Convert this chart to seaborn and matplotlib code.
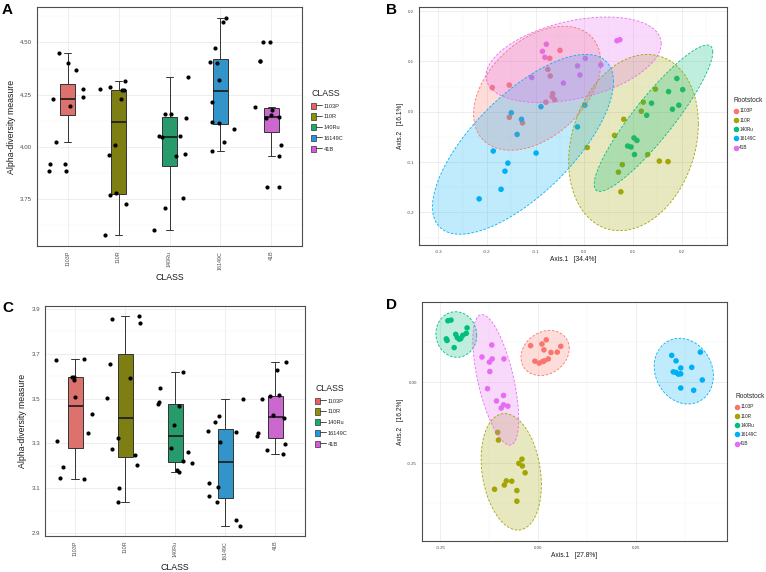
import numpy as np
import pandas as pd
import matplotlib
matplotlib.use("Agg")
import matplotlib.pyplot as plt
import seaborn as sns
from matplotlib.patches import Patch
from matplotlib.lines import Line2D
from matplotlib.legend_handler import HandlerTuple
from matplotlib.ticker import FixedLocator, FormatStrFormatter

sns.set_theme(style="white")
plt.rcParams["font.family"] = ["Liberation Sans", "DejaVu Sans"]

# ------------------------------------------------------------
# data
# ------------------------------------------------------------
classes = ["1103P", "110R", "140Ru", "16149C", "41B"]
box_colors = ["#EE605B", "#8F9100", "#14AE6E", "#1A9BE2", "#D957E0"]
pt_colors = ["#F8766D", "#A3A500", "#00BF7D", "#00B0F6", "#E76BF3"]

# panel A : box summaries (whisker low, q1, median, q3, whisker high)
a_box_lo = [4.023, 3.577, 3.601, 3.982, 3.958]
a_box_q1 = [4.154, 3.775, 3.906, 4.110, 4.070]
a_box_med = [4.230, 4.119, 4.049, 4.266, 4.145]
a_box_q3 = [4.302, 4.273, 4.142, 4.422, 4.185]
a_box_hi = [4.450, 4.314, 4.335, 4.618, 4.193]

a_pts_1103P = [4.198, 4.370, 4.450, 4.404, 4.279, 4.238, 4.231, 4.023, 3.916, 3.916, 3.882, 3.882]
a_pts_110R = [4.271, 4.289, 4.314, 4.270, 4.279, 4.231, 3.959, 4.007, 3.767, 3.727, 3.777, 3.578]
a_pts_140Ru = [4.156, 4.052, 4.046, 4.054, 4.156, 4.140, 4.335, 3.954, 3.967, 3.756, 3.705, 3.601]
a_pts_16149C = [4.618, 4.599, 4.474, 4.407, 4.401, 4.318, 4.214, 4.119, 4.114, 4.087, 4.023, 3.982]
a_pts_41B = [4.500, 4.500, 4.412, 4.412, 4.175, 4.193, 4.153, 4.137, 4.145, 4.010, 3.958, 3.809, 3.809]

# panel C : box summaries
c_box_lo = [3.143, 3.037, 3.174, 2.933, 3.254]
c_box_q1 = [3.281, 3.239, 3.218, 3.058, 3.324]
c_box_med = [3.468, 3.413, 3.332, 3.215, 3.419]
c_box_q3 = [3.596, 3.700, 3.476, 3.364, 3.510]
c_box_hi = [3.678, 3.870, 3.619, 3.500, 3.663]

c_pts_1103P = [3.195, 3.311, 3.582, 3.677, 3.598, 3.595, 3.671, 3.507, 3.430, 3.348, 3.143, 3.147]
c_pts_110R = [3.839, 3.870, 3.854, 3.593, 3.504, 3.654, 3.323, 3.276, 3.250, 3.205, 3.101, 3.037]
c_pts_140Ru = [3.549, 3.483, 3.619, 3.468, 3.476, 3.381, 3.281, 3.260, 3.221, 3.174, 3.183, 3.214]
c_pts_16149C = [3.500, 3.424, 3.394, 3.352, 3.354, 3.306, 3.125, 3.105, 3.064, 3.040, 2.958, 2.933]
c_pts_41B = [3.663, 3.626, 3.515, 3.510, 3.497, 3.428, 3.412, 3.348, 3.335, 3.296, 3.269, 3.254]

# panel B : PCoA coordinates
b_x_1103P = [-0.189, -0.154, -0.154, -0.127, -0.079, -0.061, -0.066, -0.065, -0.070, -0.075, -0.071, -0.050]
b_y_1103P = [0.048, 0.053, -0.011, -0.022, 0.019, 0.024, 0.030, 0.036, 0.071, 0.084, 0.106, 0.122]
b_x_110R = [0.081, 0.062, 0.006, 0.130, 0.154, 0.172, 0.078, 0.070, 0.075, 0.146, 0.121, 0.117]
b_y_110R = [-0.015, -0.047, -0.071, -0.085, -0.098, -0.099, -0.105, -0.120, -0.159, 0.045, 0.019, 0.001]
b_x_140Ru = [0.190, 0.173, 0.202, 0.138, 0.128, 0.181, 0.194, 0.102, 0.108, 0.089, 0.096, 0.103]
b_y_140Ru = [0.066, 0.040, 0.044, 0.017, -0.007, 0.005, 0.013, -0.052, -0.057, -0.068, -0.070, -0.085]
b_x_16149C = [-0.150, -0.129, -0.089, -0.138, -0.187, -0.099, -0.157, -0.163, -0.171, -0.216, -0.014, 0.001]
b_y_16149C = [-0.002, -0.015, 0.010, -0.045, -0.078, -0.082, -0.102, -0.118, -0.154, -0.173, -0.030, 0.013]
b_x_41B = [-0.078, -0.086, -0.081, -0.108, -0.043, -0.014, -0.009, 0.002, 0.034, 0.067, 0.073]
b_y_41B = [0.134, 0.120, 0.108, 0.068, 0.057, 0.091, 0.073, 0.106, 0.093, 0.141, 0.143]

# panel D : PCoA coordinates
d_x_1103P = [-0.020, 0.009, 0.020, 0.014, 0.032, 0.048, 0.057, -0.009, 0.002, 0.011, 0.015, 0.025]
d_y_1103P = [0.113, 0.118, 0.131, 0.100, 0.092, 0.093, 0.111, 0.065, 0.059, 0.064, 0.066, 0.072]
d_x_110R = [-0.104, -0.102, -0.042, -0.050, -0.041, -0.034, -0.082, -0.068, -0.087, -0.112, -0.055, -0.055]
d_y_110R = [-0.155, -0.179, -0.238, -0.251, -0.259, -0.280, -0.305, -0.306, -0.318, -0.331, -0.335, -0.368]
d_x_140Ru = [-0.231, -0.223, -0.235, -0.233, -0.211, -0.207, -0.198, -0.193, -0.182, -0.184, -0.215, -0.202]
d_y_140Ru = [0.190, 0.192, 0.134, 0.129, 0.148, 0.138, 0.135, 0.145, 0.168, 0.151, 0.107, 0.133]
d_x_16149C = [0.340, 0.351, 0.413, 0.391, 0.363, 0.344, 0.351, 0.357, 0.363, 0.418, 0.363, 0.396]
d_y_16149C = [0.083, 0.066, 0.093, 0.046, 0.044, 0.032, 0.030, 0.025, 0.026, 0.007, -0.018, -0.025]
d_x_41B = [-0.119, -0.144, -0.125, -0.118, -0.088, -0.124, -0.130, -0.107, -0.089, -0.095, -0.089, -0.078]
d_y_41B = [0.115, 0.078, 0.062, 0.072, 0.072, 0.033, -0.020, -0.058, -0.041, -0.080, -0.070, -0.074]

GRID_MAJOR = "#EBEBEB"
GRID_MINOR = "#F4F4F4"
BORDER = "#4D4D4D"
TICKTXT = "#4D4D4D"


def style_axes(ax, tick_size):
    ax.set_facecolor("white")
    for s in ax.spines.values():
        s.set_color(BORDER)
        s.set_linewidth(0.8)
    ax.tick_params(axis="both", length=2, width=0.4, color="#333333",
                   labelsize=tick_size, labelcolor=TICKTXT, pad=1.5)
    ax.grid(True, which="major", color=GRID_MAJOR, lw=0.6, zorder=0)
    ax.grid(True, which="minor", color=GRID_MINOR, lw=0.35, zorder=0)
    ax.set_axisbelow(True)


def box_panel(ax, lo, q1, med, q3, hi, pts, ylim, yticks, yminor, yfmt, seed):
    rows = []
    for i, c in enumerate(classes):
        for v in (lo[i], q1[i], med[i], q3[i], hi[i]):
            rows.append({"CLASS": c, "value": v})
    box_df = pd.DataFrame(rows)
    pts_df = pd.DataFrame([{"CLASS": c, "value": v}
                           for c, vals in zip(classes, pts) for v in vals])

    sns.boxplot(data=box_df, x="CLASS", y="value", hue="CLASS", order=classes,
                hue_order=classes, palette=box_colors, width=0.3, whis=(0, 100),
                showfliers=False, linecolor="#333333", linewidth=0.7,
                medianprops={"color": "#1a1a1a", "linewidth": 1.2},
                legend=False, ax=ax, zorder=2)
    np.random.seed(seed)
    sns.stripplot(data=pts_df, x="CLASS", y="value", order=classes, color="black",
                  size=3.0, jitter=0.38, linewidth=0, ax=ax, zorder=3)

    style_axes(ax, 4.4)
    ax.tick_params(axis="x", labelsize=3.9, labelrotation=90)
    ax.set_xlim(-0.6, 4.6)
    ax.set_ylim(*ylim)
    ax.yaxis.set_major_locator(FixedLocator(yticks))
    ax.yaxis.set_minor_locator(FixedLocator(yminor))
    ax.yaxis.set_major_formatter(FormatStrFormatter(yfmt))
    ax.set_xlabel("CLASS", fontsize=6.3, color="#1a1a1a", labelpad=2)
    ax.set_ylabel("Alpha-diversity measure", fontsize=6.3, color="#1a1a1a", labelpad=3)

    handles = [(Patch(facecolor=c, edgecolor="#333333", lw=0.5),
                Line2D([], [], color="#333333", lw=0.6)) for c in box_colors]
    return handles


def add_ellipse(ax, x, y, color, level=0.95, npts=150):
    x = np.asarray(x)
    y = np.asarray(y)
    n = len(x)
    center = np.array([x.mean(), y.mean()])
    cov = np.cov(x, y)
    dfd = n - 1
    fq = dfd / 2 * ((1 - level) ** (-2 / dfd) - 1)   # F(level; 2, n-1)
    radius = np.sqrt(2 * fq)
    t = np.linspace(0, 2 * np.pi, npts)
    chol = np.linalg.cholesky(cov)
    ell = center[:, None] + radius * chol @ np.vstack([np.cos(t), np.sin(t)])
    ax.fill(ell[0], ell[1], facecolor=color, alpha=0.25, lw=0, zorder=3)
    ax.plot(ell[0], ell[1], color=color, ls=(0, (3, 2)), lw=0.6, zorder=4)


def pcoa_panel(ax, xs, ys, xlab, ylab, xlim, ylim, xticks, xminor, yticks, yminor, fmt):
    df = pd.DataFrame([{"Axis1": a, "Axis2": b, "Rootstock": c}
                       for c, xx, yy in zip(classes, xs, ys) for a, b in zip(xx, yy)])
    sns.scatterplot(data=df, x="Axis1", y="Axis2", hue="Rootstock", hue_order=classes,
                    palette=pt_colors, s=16, linewidth=0, legend=False, ax=ax, zorder=2)
    for c, xx, yy in zip(pt_colors, xs, ys):
        add_ellipse(ax, xx, yy, c)
    style_axes(ax, 3.2)
    ax.set_xlim(*xlim)
    ax.set_ylim(*ylim)
    ax.xaxis.set_major_locator(FixedLocator(xticks))
    ax.xaxis.set_minor_locator(FixedLocator(xminor))
    ax.yaxis.set_major_locator(FixedLocator(yticks))
    ax.yaxis.set_minor_locator(FixedLocator(yminor))
    ax.xaxis.set_major_formatter(FormatStrFormatter(fmt))
    ax.yaxis.set_major_formatter(FormatStrFormatter(fmt))
    ax.set_xlabel(xlab, fontsize=4.8, color="#1a1a1a", labelpad=0.5)
    ax.set_ylabel(ylab, fontsize=4.8, color="#1a1a1a", labelpad=2)
    handles = [Line2D([], [], marker="o", ls="", markersize=4, markerfacecolor=c,
                      markeredgewidth=0) for c in pt_colors]
    return handles


W, H = 766, 572
fig = plt.figure(figsize=(W / 100, H / 100), dpi=100)
fig.patch.set_facecolor("white")


def rect(x0, y0, x1, y1):
    return [x0 / W, 1 - y1 / H, (x1 - x0) / W, (y1 - y0) / H]


axA = fig.add_axes(rect(37, 7, 302, 246))
axB = fig.add_axes(rect(419, 7, 727, 245))
axC = fig.add_axes(rect(45, 306, 305, 536))
axD = fig.add_axes(rect(422, 302, 727, 541))

hA = box_panel(axA, a_box_lo, a_box_q1, a_box_med, a_box_q3, a_box_hi,
               [a_pts_1103P, a_pts_110R, a_pts_140Ru, a_pts_16149C, a_pts_41B],
               (3.525, 4.670), [3.75, 4.00, 4.25, 4.50], [3.625, 3.875, 4.125, 4.375, 4.625],
               "%.2f", 3)
hC = box_panel(axC, c_box_lo, c_box_q1, c_box_med, c_box_q3, c_box_hi,
               [c_pts_1103P, c_pts_110R, c_pts_140Ru, c_pts_16149C, c_pts_41B],
               (2.887, 3.913), [2.9, 3.1, 3.3, 3.5, 3.7, 3.9], [3.0, 3.2, 3.4, 3.6, 3.8],
               "%.1f", 11)

hB = pcoa_panel(axB,
                [b_x_1103P, b_x_110R, b_x_140Ru, b_x_16149C, b_x_41B],
                [b_y_1103P, b_y_110R, b_y_140Ru, b_y_16149C, b_y_41B],
                "Axis.1   [34.4%]", "Axis.2   [16.1%]",
                (-0.3395, 0.293), (-0.2646, 0.208),
                [-0.3, -0.2, -0.1, 0.0, 0.1, 0.2], [-0.25, -0.15, -0.05, 0.05, 0.15, 0.25],
                [-0.2, -0.1, 0.0, 0.1, 0.2], [-0.25, -0.15, -0.05, 0.05, 0.15],
                "%.1f")
hD = pcoa_panel(axD,
                [d_x_1103P, d_x_110R, d_x_140Ru, d_x_16149C, d_x_41B],
                [d_y_1103P, d_y_110R, d_y_140Ru, d_y_16149C, d_y_41B],
                "Axis.1   [27.8%]", "Axis.2   [16.2%]",
                (-0.297, 0.481), (-0.491, 0.248),
                [-0.25, 0.0, 0.25], [-0.125, 0.125, 0.375],
                [-0.25, 0.0], [-0.375, -0.125, 0.125],
                "%.2f")

# legends
for handles, anchor in ((hA, (311, 89)), (hC, (315, 384))):
    fig.legend(handles, classes, handler_map={tuple: HandlerTuple(ndivide=None)},
               title="CLASS", loc="upper left", bbox_to_anchor=(anchor[0] / W, 1 - anchor[1] / H),
               frameon=False, fontsize=4.1, title_fontsize=6.3, handlelength=1.9,
               handleheight=1.3, handletextpad=0.4, labelspacing=0.8, alignment="left",
               borderaxespad=0, borderpad=0)
for handles, anchor in ((hB, (734, 97)), (hD, (735, 393))):
    fig.legend(handles, classes, title="Rootstock", loc="upper left",
               bbox_to_anchor=(anchor[0] / W, 1 - anchor[1] / H), frameon=False,
               fontsize=3.4, title_fontsize=4.8, handlelength=0.8, handletextpad=0.3,
               labelspacing=0.9, alignment="left", borderaxespad=0, borderpad=0)

# panel letters
for letter, (px, py) in zip("ABCD", [(2, 3), (386, 3), (2, 301), (386, 298)]):
    fig.text(px / W, 1 - py / H, letter, fontsize=11, fontweight="bold",
             ha="left", va="top", color="black")

fig.savefig("out.png", dpi=100, facecolor="white")
